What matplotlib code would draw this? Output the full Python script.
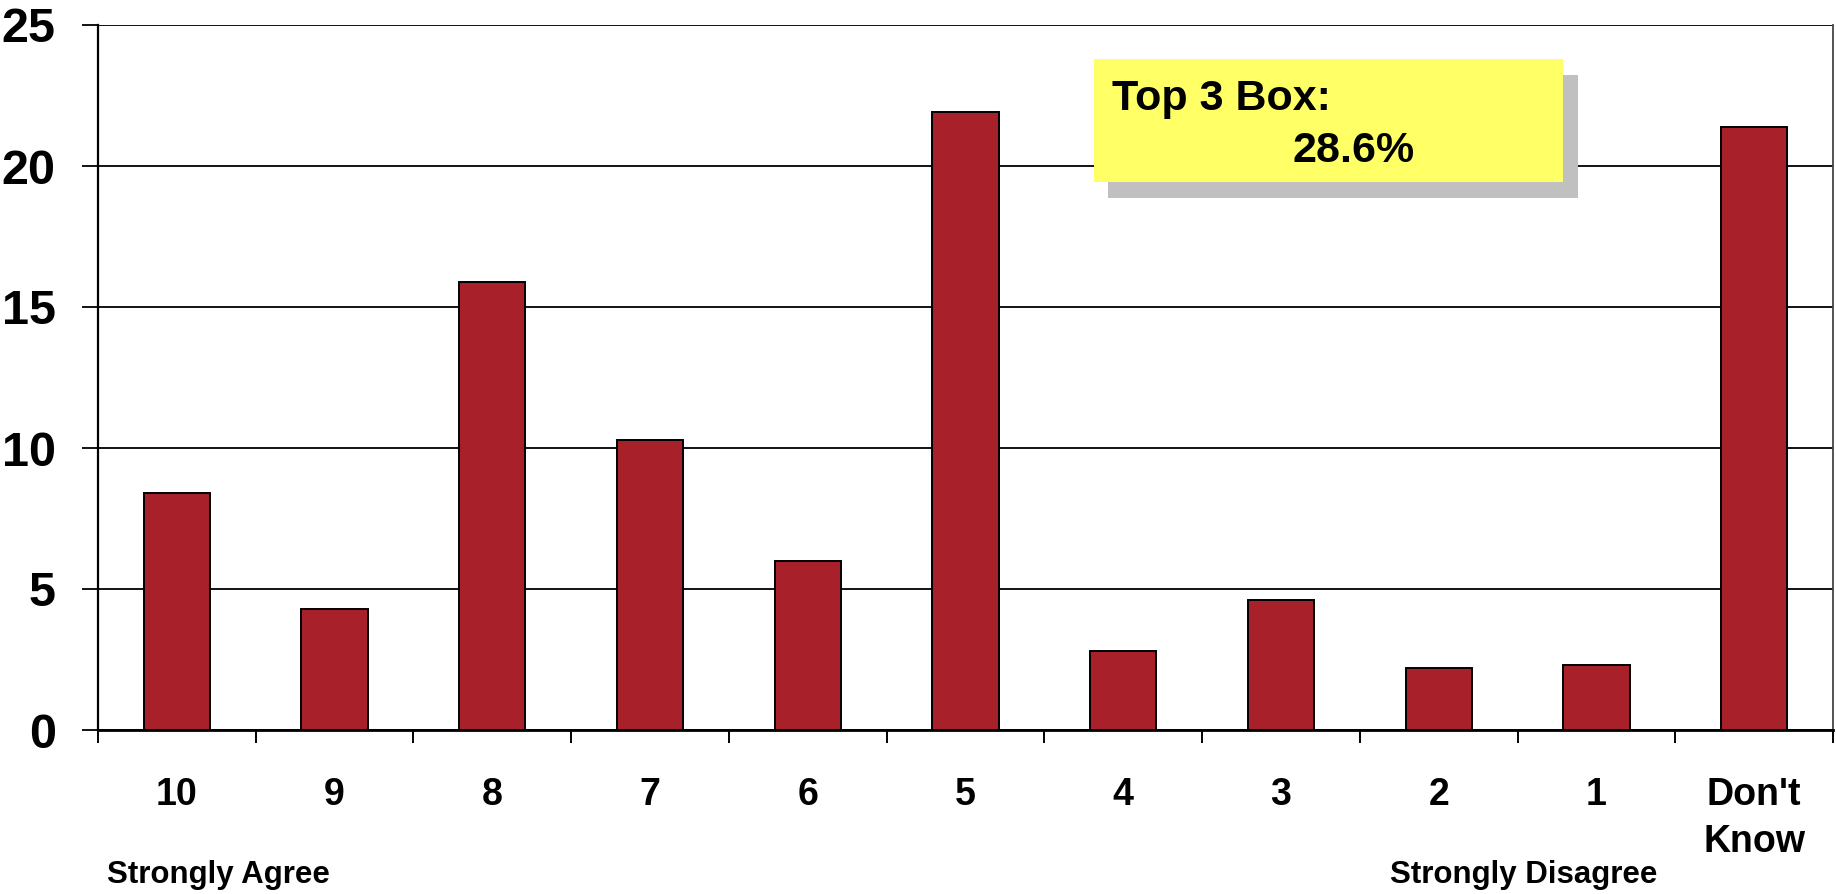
import matplotlib.pyplot as plt
from matplotlib.patches import Rectangle
import numpy as np

plt.rcParams['font.family'] = ['Liberation Sans', 'DejaVu Sans']
plt.rcParams['font.weight'] = 'bold'

# survey responses, % of respondents
categories = ['10', '9', '8', '7', '6', '5', '4', '3', '2', '1', "Don't\nKnow"]
percent = [8.4, 4.3, 15.9, 10.3, 6.0, 21.9, 2.8, 4.6, 2.2, 2.3, 21.4]
top3 = sum(percent[:3])

W, H = 1836, 894
fig = plt.figure(figsize=(W / 100, H / 100), dpi=100)
ax = fig.add_axes([98 / W, 1 - 730 / H, (1833 - 98) / W, (730 - 25) / H])

x = np.arange(len(categories))
ax.bar(x, percent, width=0.42, color='#A8202A', edgecolor='black', linewidth=1.4, zorder=3)

ax.set_xlim(-0.5, len(categories) - 0.5)
ax.set_ylim(0, 25)
ax.set_yticks(range(0, 26, 5))
ax.yaxis.grid(True, color='black', linewidth=1.3, zorder=0)
ax.tick_params(axis='y', length=11.5, width=1.3, pad=19, labelsize=35)

# labels at bar centres, tick marks on category boundaries
ax.set_xticks(x)
ax.set_xticklabels(categories, fontsize=27, linespacing=1.4)
ax.set_xticks(np.arange(-0.5, len(categories), 1), minor=True)
ax.tick_params(axis='x', which='major', length=0, pad=34)
ax.tick_params(axis='x', which='minor', length=9, width=1.4)

ax.spines['top'].set_visible(False)
ax.spines['left'].set_linewidth(1.6)
ax.spines['bottom'].set_linewidth(2)
ax.spines['right'].set_linewidth(1.3)
ax.spines['right'].set_color('#444444')

fig.text(107 / W, 1 - 883 / H, 'Strongly Agree', fontsize=22.5, va='baseline')
fig.text(1390 / W, 1 - 883 / H, 'Strongly Disagree', fontsize=22.5, va='baseline')

# callout box with drop shadow
shadow = Rectangle((1108 / W, 1 - 198 / H), (1578 - 1108) / W, (198 - 75) / H,
                   transform=fig.transFigure, facecolor='#C0C0C0', edgecolor='none', zorder=5)
box = Rectangle((1094 / W, 1 - 182 / H), (1563 - 1094) / W, (182 - 59) / H,
                transform=fig.transFigure, facecolor='#FFFF66', edgecolor='none', zorder=6)
fig.add_artist(shadow)
fig.add_artist(box)
fig.text(1112 / W, 1 - 110 / H, 'Top 3 Box:', fontsize=31, va='baseline', zorder=7)
fig.text(1292 / W, 1 - 162 / H, f'{top3:.1f}%', fontsize=31, va='baseline', zorder=7)

fig.savefig('out.png', dpi=100)
